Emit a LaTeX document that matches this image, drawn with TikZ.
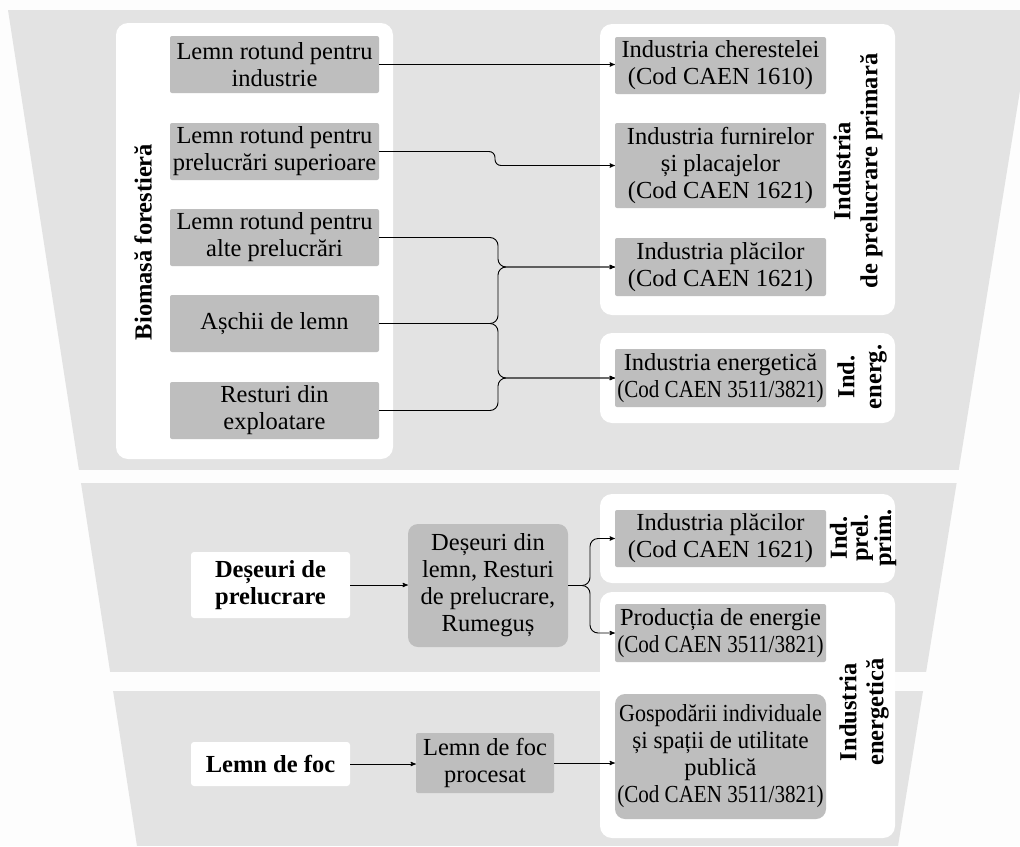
\documentclass[tikz,border=0pt]{standalone}
\usepackage{fontspec}
\usepackage{graphicx}
\setmainfont{Liberation Serif}
\usetikzlibrary{arrows}

\definecolor{bandgray}{HTML}{E3E3E3}
\definecolor{boxgray}{HTML}{BEBEBE}
\definecolor{pagegray}{HTML}{FDFDFD}
\newcommand{\boxfont}{\fontsize{24.5}{27}\selectfont}
\newcommand{\narrowtxt}[2][0.86]{\scalebox{#1}[1]{#2}}

\tikzset{
  band/.style={fill=bandgray},
  panel/.style={fill=white, rounded corners=12pt},
  srcbox/.style={fill=boxgray, rounded corners=2pt, align=center, inner sep=0pt,
    minimum width=209pt, minimum height=57pt, font=\boxfont},
  dstbox/.style={srcbox, minimum width=211pt},
  inbox/.style={fill=white, rounded corners=3pt, align=center, inner sep=0pt,
    minimum width=159pt, font=\boxfont\bfseries},
  sidelab/.style={rotate=90, align=center, inner sep=0pt, font=\boxfont\bfseries},
  link/.style={->, >=stealth', line width=0.9pt, rounded corners=8pt},
}

\begin{document}
\begin{tikzpicture}[x=1pt, y=-1pt]
    % page and funnel bands
    \useasboundingbox (0,0) rectangle (1020,846);
    \fill[pagegray] (0,0) rectangle (1020,846);
    \begin{scope}
    \clip (8,10) -- (1033,10) -- (898,846) -- (137,846) -- cycle;
    \fill[band] (0,10)  rectangle (1040,470);
    \fill[band] (0,483) rectangle (1040,672);
    \fill[band] (0,691) rectangle (1040,846);
    \end{scope}
    % white panels
    \fill[panel] (116,23)  rectangle (393,459);
    \fill[panel] (600,24)  rectangle (895,315);
    \fill[panel] (600,333) rectangle (895,423);
    \fill[panel] (600,494) rectangle (895,583);
    \fill[panel] (600,592) rectangle (895,838);
    % panel labels
    \node[sidelab] (lbio)   at (143,242) {Biomasă forestieră};
    \node[sidelab] (lprim)  at (858,171) {Industria\\de prelucrare primară};
    \node[sidelab] (lenerg) at (862,377) {Ind.\\energ.};
    \node[sidelab, font=\fontsize{24.5}{21}\selectfont\bfseries]
      (lpp) at (863,538) {Ind.\\prel.\\prim.};
    \node[sidelab] (lind)   at (864,712) {Industria\\energetică};
    % forest biomass sources
    \node[srcbox] (b1) at (274.5,64.5)  {Lemn rotund pentru\\industrie};
    \node[srcbox] (b2) at (274.5,151.5) {Lemn rotund pentru\\prelucrări superioare};
    \node[srcbox] (b3) at (274.5,237.5) {Lemn rotund pentru\\alte prelucrări};
    \node[srcbox] (b4) at (274.5,323.5) {Așchii de lemn};
    \node[srcbox] (b5) at (274.5,410.5) {Resturi din\\exploatare};
    % industries
    \node[dstbox] (fA) at (720.5,65.5) {Industria cherestelei\\(Cod CAEN 1610)};
    \node[dstbox, minimum height=85pt] (fB) at (720.5,165.5)
      {Industria furnirelor\\și placajelor\\(Cod CAEN 1621)};
    \node[dstbox, minimum height=58pt] (fC) at (720.5,267)
      {Industria plăcilor\\(Cod CAEN 1621)};
    \node[dstbox, minimum height=58pt] (fD) at (720.5,378)
      {Industria energetică\\\narrowtxt{(Cod CAEN 3511/3821)}};
    \node[dstbox] (fE) at (720.5,538.5) {Industria plăcilor\\(Cod CAEN 1621)};
    \node[dstbox, minimum height=58pt] (fF) at (720.5,633)
      {Producția de energie\\\narrowtxt{(Cod CAEN 3511/3821)}};
    \node[dstbox, minimum height=125pt, rounded corners=10pt] (fG) at (720.5,756.5)
      {\narrowtxt[0.9]{Gospodării individuale}\\\narrowtxt[0.95]{și spații de utilitate}\\
       publică\\\narrowtxt{(Cod CAEN 3511/3821)}};
    % processing waste and firewood
    \node[inbox, minimum height=66pt] (sdes) at (270.5,585) {Deșeuri de\\prelucrare};
    \node[srcbox, minimum width=160pt, minimum height=123pt, rounded corners=10pt]
      (wdes) at (488,585.5) {Deșeuri din\\lemn, Resturi\\de prelucrare,\\Rumeguș};
    \node[inbox, minimum height=44pt] (sfoc) at (270.5,764) {Lemn de foc};
    \node[srcbox, minimum width=138pt, minimum height=60pt] (pfoc) at (485,763)
      {Lemn de foc\\procesat};
    % junction columns
    \coordinate (jb) at (495,0);
    \coordinate (jt) at (498,0);
    \coordinate (jw) at (590,0);
    % connectors
    \draw[link] (b1.east) -- (b1.east -| fA.west);
    \draw[link, rounded corners=6pt] (b2.east) -| (jb |- fB.west) -- (fB.west);
    \draw[link] (b3.east) -| (jt |- fC.west) -- (fC.west);
    \draw[link] (b4.east) -| (jt |- fC.west) -- (fC.west);
    \draw[link] (b4.east) -| (jt |- fD.west) -- (fD.west);
    \draw[link] (b5.east) -| (jt |- fD.west) -- (fD.west);
    \draw[link] (sdes.east) -- (sdes.east -| wdes.west);
    \draw[link] (wdes.east) -- (wdes.east -| jw) |- (fE.west);
    \draw[link] (wdes.east) -- (wdes.east -| jw) |- (fF.west);
    \draw[link] (sfoc.east) -- (sfoc.east -| pfoc.west);
    \draw[link] (pfoc.east) -- (pfoc.east -| fG.west);
\end{tikzpicture}
\end{document}
